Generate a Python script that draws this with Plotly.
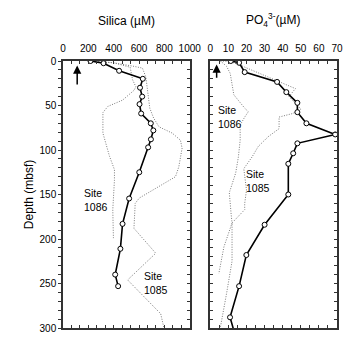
import plotly.graph_objects as go

# ---------------- data ----------------
silica_depth = [0, 2.5, 11, 20, 30, 40, 48.5, 59, 70, 78, 88, 97, 125, 154.5, 183, 211, 240, 253]
silica = [217, 320, 443, 630, 608, 625, 604, 617, 693, 713, 694, 672, 602, 522, 470, 453, 412, 435]

si_1085_depth = [0, 2, 6, 8, 18, 33, 44, 53, 64, 74, 81, 89, 98, 119, 130, 143, 154, 160, 188, 216, 246, 284, 300]
si_1085 = [200, 400, 560, 627, 654, 666, 675, 685, 715, 758, 862, 927, 940, 914, 888, 732, 602, 570, 560, 732, 510, 771, 797]

si_1086_depth = [0, 2, 7, 21, 29, 33, 44, 51, 58, 81, 107, 122, 134, 167, 199]
si_1086 = [200, 400, 530, 549, 575, 560, 470, 354, 315, 315, 367, 406, 406, 393, 398]

po4_depth = [0, 2, 12.5, 23.5, 35, 47, 57.5, 70, 82.5, 92.5, 103.7, 115.5, 150, 184, 218, 253, 288, 305]
po4 = [11.3, 15.9, 19, 36.9, 42, 48.1, 48.1, 53.1, 69, 48.1, 45.8, 43.1, 43.1, 30, 19.9, 15.9, 10.9, 13.3]

po4_1086_depth = [0, 6, 14, 25, 38, 53, 57, 63, 72, 89, 108, 126, 148, 172, 182, 209, 239]
po4_1086 = [5.6, 9, 11, 12, 13, 19, 21, 19, 16.5, 16.5, 15.5, 14, 10.5, 11.5, 12, 7.5, 4.7]

po4_1085_depth = [0, 0.5, 6, 31, 40, 54, 59, 63, 76, 85, 96, 108, 121, 145, 160, 167, 182, 225, 261, 300]
po4_1085 = [5.6, 11, 18, 47, 43.5, 50, 45.5, 38, 38, 32, 26.5, 23, 18.5, 20, 19, 19, 12, 12, 9, 5.5]

si_ticks = [0, 200, 400, 600, 800, 1000]
po4_ticks = [0, 10, 20, 30, 40, 50, 60, 70]
depth_ticks = [0, 50, 100, 150, 200, 250, 300]

FONT = "Liberation Sans, Arial, sans-serif"
LINEC = "#333333"
DOTC = "#7a7a7a"
DOT = "1px,1.5px"

fig = go.Figure()

# left panel
fig.add_trace(go.Scatter(x=si_1086, y=si_1086_depth, mode="lines",
                         line=dict(color=DOTC, width=1, dash=DOT), xaxis="x", yaxis="y"))
fig.add_trace(go.Scatter(x=si_1085, y=si_1085_depth, mode="lines",
                         line=dict(color=DOTC, width=1, dash=DOT), xaxis="x", yaxis="y"))
fig.add_trace(go.Scatter(x=silica, y=silica_depth, mode="lines+markers",
                         line=dict(color="black", width=1.6),
                         marker=dict(symbol="circle", size=5, color="white",
                                     line=dict(color="black", width=1)),
                         xaxis="x", yaxis="y"))
fig.add_trace(go.Scatter(x=[], y=[], xaxis="x", yaxis="y3", showlegend=False))

# right panel
fig.add_trace(go.Scatter(x=po4_1086, y=po4_1086_depth, mode="lines",
                         line=dict(color=DOTC, width=1, dash=DOT), xaxis="x2", yaxis="y2"))
fig.add_trace(go.Scatter(x=po4_1085, y=po4_1085_depth, mode="lines",
                         line=dict(color=DOTC, width=1, dash=DOT), xaxis="x2", yaxis="y2"))
fig.add_trace(go.Scatter(x=po4, y=po4_depth, mode="lines+markers",
                         line=dict(color="black", width=1.6),
                         marker=dict(symbol="circle", size=5, color="white",
                                     line=dict(color="black", width=1)),
                         xaxis="x2", yaxis="y2"))

# minor tick positions
si_minor = [i * 1000 / 15 for i in range(16)]
po_minor = [i * 5 for i in range(15)]
d_minor = list(range(0, 301, 10))

common = dict(showgrid=False, zeroline=False, showline=True, linecolor=LINEC,
              linewidth=1.5, tickcolor=LINEC, tickwidth=1,
              tickfont=dict(family=FONT, size=10, color="black"))


def minor(vals, ticks):
    return dict(tickmode="array", tickvals=vals, ticks=ticks, ticklen=3,
                tickcolor=LINEC, tickwidth=1, showgrid=False)


L = (192 - 63) / 279
R = (213 - 63) / 279

fig.update_layout(
    width=361, height=346,
    margin=dict(l=63, r=19, t=61, b=18),
    paper_bgcolor="white", plot_bgcolor="white",
    showlegend=False,
    xaxis=dict(domain=[0, L], range=[0, 1000], side="top", anchor="y",
               tickmode="array", tickvals=si_ticks, ticktext=[str(v) for v in si_ticks],
               ticks="inside", ticklen=3, mirror="ticks", ticklabelstandoff=3,
               minor=minor(si_minor, "inside"), **common),
    yaxis=dict(domain=[0, 1], range=[300, 0], anchor="x",
               tickmode="array", tickvals=depth_ticks, ticktext=[str(v) for v in depth_ticks],
               ticks="outside", ticklen=3, minor=minor(d_minor, "outside"), **common),
    yaxis3=dict(overlaying="y", side="right", anchor="x", range=[300, 0],
                tickmode="array", tickvals=d_minor, showticklabels=False,
                ticks="inside", ticklen=3, **common),
    xaxis2=dict(domain=[R, 1], range=[0, 70], side="top", anchor="y2",
                tickmode="array", tickvals=po4_ticks, ticktext=[str(v) for v in po4_ticks],
                ticks="inside", ticklen=3, mirror="ticks", ticklabelstandoff=3,
                minor=minor(po_minor, "inside"), **common),
    yaxis2=dict(domain=[0, 1], range=[300, 0], anchor="x2",
                tickmode="array", tickvals=d_minor, showticklabels=False,
                ticks="inside", ticklen=3, mirror="ticks", **common),
)

ann_font = dict(family=FONT, size=10.5, color="black")
fig.add_annotation(text="Silica (µM)", xref="paper", yref="paper",
                   x=(128 - 63) / 279, y=(328 - 21) / 267, xanchor="center", yanchor="middle",
                   showarrow=False, font=dict(family=FONT, size=12, color="black"))
fig.add_annotation(text="PO<sub>4</sub><sup>3-</sup>(µM)", xref="paper", yref="paper",
                   x=(277 - 63) / 279, y=(328 - 20) / 267, xanchor="center", yanchor="middle",
                   showarrow=False, font=dict(family=FONT, size=12, color="black"))
fig.add_annotation(text="Depth (mbsf)", xref="paper", yref="paper",
                   x=(28 - 63) / 279, y=0.5, xanchor="center", yanchor="middle",
                   textangle=-90, showarrow=False, font=dict(family=FONT, size=12, color="black"))

fig.add_annotation(text="Site<br>1086", x=258, y=156, xref="x", yref="y",
                   showarrow=False, align="left", font=ann_font)
fig.add_annotation(text="Site<br>1085", x=734, y=249, xref="x", yref="y",
                   showarrow=False, align="left", font=ann_font)
fig.add_annotation(text="Site<br>1086", x=10.9, y=63, xref="x2", yref="y2",
                   showarrow=False, align="left", font=ann_font)
fig.add_annotation(text="Site<br>1085", x=26.6, y=135, xref="x2", yref="y2",
                   showarrow=False, align="left", font=ann_font)

# arrows
fig.add_annotation(x=112, y=5, ax=112, ay=28, xref="x", yref="y", axref="x", ayref="y",
                   text="", showarrow=True, arrowhead=2, arrowsize=1.1, arrowwidth=1.5,
                   arrowcolor="black")
fig.add_annotation(x=3.5, y=4, ax=3.5, ay=20.6, xref="x2", yref="y2", axref="x2", ayref="y2",
                   text="", showarrow=True, arrowhead=2, arrowsize=1.1, arrowwidth=1.5,
                   arrowcolor="black")

fig.write_html("out.html")
